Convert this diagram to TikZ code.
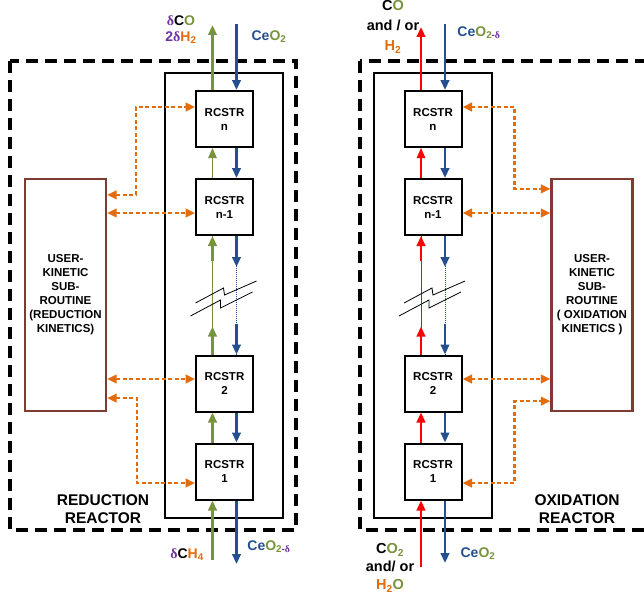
\documentclass[tikz,border=0pt]{standalone}
\usepackage{fontspec}
\setmainfont{Liberation Sans}
\newfontfamily\deltafont{Liberation Serif}
\usepackage{xcolor}
\usetikzlibrary{arrows.meta}

\definecolor{ceblue}{HTML}{24508F}
\definecolor{gasgreen}{HTML}{77933C}
\definecolor{hyorange}{HTML}{E46C0A}
\definecolor{dpurple}{HTML}{7030A0}
\definecolor{kinbrown}{HTML}{7F3B30}
\definecolor{oxred}{HTML}{FF0000}

% colored chemistry bits
\newcommand{\dlt}{{\color{dpurple}\deltafont\bfseries δ}}
\newcommand{\ceo}{{\color{ceblue}Ce}{\color{gasgreen}O\textsubscript{2}}}
\newcommand{\ceored}{{\color{ceblue}Ce}{\color{gasgreen}O\textsubscript{2{\color{dpurple}-}\dlt}}}

\begin{document}
\begin{tikzpicture}[
    x=1pt, y=-1pt,
    reactor/.style={
        rectangle, draw=black, line width=2pt, fill=white,
        minimum width=57pt, minimum height=56pt, inner sep=0pt,
        align=center, font=\fontsize{11.5}{14}\selectfont\bfseries
    },
    kinetic/.style={
        rectangle, draw=kinbrown, line width=2.2pt, fill=white,
        minimum width=81pt, minimum height=232pt, inner sep=0pt,
        align=center, font=\fontsize{11.5}{14}\selectfont\bfseries
    },
    reactorframe/.style={draw=black, line width=3.3pt, dash pattern=on 12pt off 7pt},
    colbox/.style={draw=black, line width=1.6pt},
    lbl/.style={align=center, inner sep=0pt, font=\fontsize{14}{16}\selectfont\bfseries},
    title/.style={align=center, inner sep=0pt, font=\fontsize{15.5}{18}\selectfont\bfseries},
    flow/.style={line width=2.5pt, -{Triangle[length=10pt, width=8.5pt]}},
    thinflow/.style={line width=1.1pt, -{Triangle[length=10pt, width=8.5pt]}},
    gasL/.style={flow, color=gasgreen},
    gasR/.style={flow, color=oxred},
    ce/.style={flow, color=ceblue},
    link/.style={
        color=hyorange, line width=2.7pt, dash pattern=on 4pt off 2.5pt,
        {Triangle[length=9.5pt, width=8.5pt]}-{Triangle[length=9.5pt, width=8.5pt]}
    },
    brk/.style={draw=black, line width=0.8pt}
]
\useasboundingbox (0,0) rectangle (644,594);
\clip (0,0) rectangle (644,594);

% reactor walls
\draw[reactorframe] (10,61) rectangle (296,530);
\draw[reactorframe] (360,61) rectangle (690,530);
\draw[colbox] (165,73) rectangle (283,518);
\draw[colbox] (374,73) rectangle (492,518);

% RCSTR chain, reduction side
\node[reactor] (rLn) at (224.5,119) {RCSTR\\n};
\node[reactor] (rLm) at (224.5,207) {RCSTR\\n-1};
\node[reactor] (rL2) at (224.5,383.5) {RCSTR\\2};
\node[reactor] (rL1) at (224.5,471.5) {RCSTR\\1};

% RCSTR chain, oxidation side
\node[reactor] (rRn) at (433,119) {RCSTR\\n};
\node[reactor] (rRm) at (433,207) {RCSTR\\n-1};
\node[reactor] (rR2) at (433,383.5) {RCSTR\\2};
\node[reactor] (rR1) at (433,471.5) {RCSTR\\1};

% kinetic subroutines
\node[kinetic] (kinL) at (65.5,295) {USER-\\KINETIC\\SUB-\\ROUTINE\\(REDUCTION\\KINETICS)};
\node[kinetic] (kinR) at (592,295) {USER-\\KINETIC\\SUB-\\ROUTINE\\( OXIDATION\\KINETICS )};

\node[title] (redTitle) at (103,509) {REDUCTION\\REACTOR};
\node[title] (oxTitle) at (577,509) {OXIDATION\\REACTOR};

% stream labels
\node[lbl] (gasOutLtxt) at (181,30) {\dlt C{\color{gasgreen}O}\\{\color{dpurple}2}\dlt{\color{hyorange}H\textsubscript{2}}};
\node[lbl] (ceInLtxt) at (269,37) {\ceo};
\node[lbl] (gasInLtxt) at (187,555) {\dlt C{\color{hyorange}H\textsubscript{4}}};
\node[lbl] (ceOutLtxt) at (269,547) {\ceored};
\node[lbl, font=\fontsize{14.5}{20}\selectfont\bfseries] (gasOutRtxt) at (393,27)
    {C{\color{gasgreen}O}\\and / or\\{\color{hyorange}H\textsubscript{2}}};
\node[lbl] (ceInRtxt) at (479,33) {\ceored};
\node[lbl, font=\fontsize{14.5}{18}\selectfont\bfseries] (gasInRtxt) at (390,568)
    {C{\color{gasgreen}O\textsubscript{2}}\\and/ or\\{\color{hyorange}H\textsubscript{2}}{\color{gasgreen}O}};
\node[lbl] (ceOutRtxt) at (478,554) {\ceo};

% free ends of the streams
\coordinate (gasInL) at (212.5,560);
\coordinate (gasOutL) at (212.5,25);
\coordinate (ceInL) at (236.5,24);
\coordinate (ceOutL) at (236.5,564);
\coordinate (gasInR) at (421,567);
\coordinate (gasOutR) at (421,27);
\coordinate (ceInR) at (445,24);
\coordinate (ceOutR) at (445,563);

% reduction side streams
\draw[gasL] (gasInL) -- ([xshift=-12pt]rL1.south);
\draw[gasL] ([xshift=-12pt]rL1.north) -- ([xshift=-12pt]rL2.south);
\draw[gasL, line width=0.8pt, -] ([xshift=-12pt]rL2.north) -- ([xshift=-12pt]rLm.south);
\draw[gasL] ([xshift=-12pt]rL2.north) -- ++(0,-28);
\draw[gasL] ([xshift=-12pt]rLm.south) ++(0,25) -- ([xshift=-12pt]rLm.south);
\draw[thinflow, color=gasgreen] ([xshift=-12pt]rLm.north) -- ([xshift=-12pt]rLn.south);
\draw[gasL] ([xshift=-12pt]rLn.north) -- (gasOutL);

\draw[ce] (ceInL) -- ([xshift=12pt]rLn.north);
\draw[ce] ([xshift=12pt]rLn.south) -- ([xshift=12pt]rLm.north);
\draw[ceblue, line width=1pt, densely dotted] ([xshift=12pt]rLm.south) -- ([xshift=12pt]rL2.north);
\draw[ce] ([xshift=12pt]rLm.south) -- ++(0,31);
\draw[ce] ([xshift=12pt]rL2.north) ++(0,-31) -- ([xshift=12pt]rL2.north);
\draw[ce] ([xshift=12pt]rL2.south) -- ([xshift=12pt]rL1.north);
\draw[ce] ([xshift=12pt]rL1.south) -- (ceOutL);

% oxidation side streams
\draw[gasR] (gasInR) -- ([xshift=-12pt]rR1.south);
\draw[gasR] ([xshift=-12pt]rR1.north) -- ([xshift=-12pt]rR2.south);
\draw[gasR, line width=0.8pt, -] ([xshift=-12pt]rR2.north) -- ([xshift=-12pt]rRm.south);
\draw[gasR] ([xshift=-12pt]rR2.north) -- ++(0,-28);
\draw[gasR] ([xshift=-12pt]rRm.south) ++(0,25) -- ([xshift=-12pt]rRm.south);
\draw[thinflow, color=oxred] ([xshift=-12pt]rRm.north) -- ([xshift=-12pt]rRn.south);
\draw[gasR] ([xshift=-12pt]rRn.north) -- (gasOutR);

\draw[ce] (ceInR) -- ([xshift=12pt]rRn.north);
\draw[ce] ([xshift=12pt]rRn.south) -- ([xshift=12pt]rRm.north);
\draw[ceblue, line width=1pt, densely dotted] ([xshift=12pt]rRm.south) -- ([xshift=12pt]rR2.north);
\draw[ce] ([xshift=12pt]rRm.south) -- ++(0,31);
\draw[ce] ([xshift=12pt]rR2.north) ++(0,-31) -- ([xshift=12pt]rR2.north);
\draw[ce] ([xshift=12pt]rR2.south) -- ([xshift=12pt]rR1.north);
\draw[ce] ([xshift=12pt]rR1.south) -- (ceOutR);

% break marks
\coordinate (brkL) at (224.5,298);
\coordinate (brkR) at (433,298);
\foreach \b in {brkL, brkR} {
    \draw[brk] (\b) ++(-29,5) -- ++(28,-15) -- ++(1,7) -- ++(32,-14);
    \draw[brk] (\b) ++(-34,18) -- ++(30,-16) -- ++(0,8) -- ++(32,-16);
}

% kinetics exchange, reduction side
\coordinate (kL2) at ([yshift=-6pt]rLm.west);
\coordinate (kL3) at ([yshift=4.5pt]rL2.west);
\draw[link] ([yshift=-17pt]kinL.north east) -- ++(29,0) |- ([yshift=12pt]rLn.west);
\draw[link] (kL2 -| kinL.east) -- (kL2);
\draw[link] (kL3 -| kinL.east) -- (kL3);
\draw[link] ([yshift=14pt]kinL.south east) -- ++(30,0) |- ([yshift=-11.5pt]rL1.west);

% kinetics exchange, oxidation side
\coordinate (kR2) at ([yshift=-6pt]rRm.east);
\coordinate (kR3) at ([yshift=4.5pt]rR2.east);
\draw[link] ([yshift=12pt]rRn.east) -- ++(52,0) |- ([yshift=-11pt]kinR.north west);
\draw[link] (kR2) -- (kR2 -| kinR.west);
\draw[link] (kR3) -- (kR3 -| kinR.west);
\draw[link] ([yshift=-11.5pt]rR1.east) -- ++(52,0) |- ([yshift=11pt]kinR.south west);

\end{tikzpicture}
\end{document}
